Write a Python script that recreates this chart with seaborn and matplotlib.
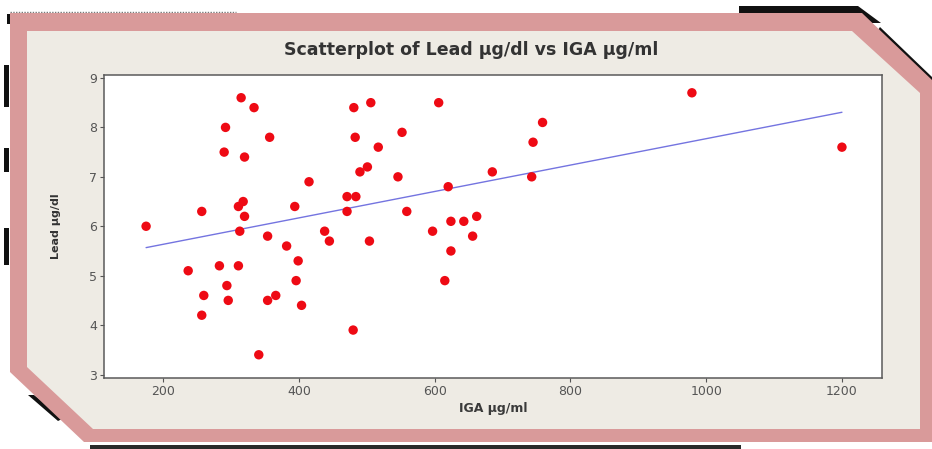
import matplotlib
matplotlib.use("Agg")
import matplotlib.pyplot as plt
import seaborn as sns
import pandas as pd
from matplotlib.patches import Polygon
from matplotlib.lines import Line2D

# ---- data ----
iga = [175, 237, 257, 260, 257, 283, 292, 290, 294, 296,
       315, 334, 320, 311, 318, 320, 313, 311, 341, 357,
       354, 354, 366, 382, 394, 399, 396, 404, 415, 438,
       445, 471, 484, 471, 481, 483, 480, 506, 490, 501,
       517, 504, 546, 552, 559, 606, 597, 620, 624, 643,
       624, 615, 662, 656, 685, 745, 743, 759, 979, 1200]
lead = [6.0, 5.1, 6.3, 4.6, 4.2, 5.2, 8.0, 7.5, 4.8, 4.5,
        8.6, 8.4, 7.4, 6.4, 6.5, 6.2, 5.9, 5.2, 3.4, 7.8,
        5.8, 4.5, 4.6, 5.6, 6.4, 5.3, 4.9, 4.4, 6.9, 5.9,
        5.7, 6.6, 6.6, 6.3, 8.4, 7.8, 3.9, 8.5, 7.1, 7.2,
        7.6, 5.7, 7.0, 7.9, 6.3, 8.5, 5.9, 6.8, 6.1, 6.1,
        5.5, 4.9, 6.2, 5.8, 7.1, 7.7, 7.0, 8.1, 8.7, 7.6]
x_ticks = [200, 400, 600, 800, 1000, 1200]
y_ticks = [3, 4, 5, 6, 7, 8, 9]
title = "Scatterplot of Lead µg/dl vs IGA µg/ml"
x_label = "IGA µg/ml"
y_label = "Lead µg/dl"

df = pd.DataFrame({"IGA": iga, "Lead": lead})

sns.set_theme(style="white")
plt.rcParams['font.family'] = ['DejaVu Sans']

W, H = 932, 449
fig = plt.figure(figsize=(W / 100, H / 100), dpi=100)
fig.patch.set_facecolor("white")


def P(pts):
    return [(x / W, 1 - y / H) for x, y in pts]


def poly(pts, color, z):
    fig.patches.append(Polygon(P(pts), closed=True, transform=fig.transFigure,
                               facecolor=color, edgecolor="none", zorder=z))


# shadows / artifacts
black = "#111111"
poly([(739, 6), (858, 6), (881, 23), (862, 23), (851, 14), (739, 14)], black, 0)
poly([(4, 65), (9, 65), (9, 107), (4, 107)], black, 0)
poly([(4, 148), (9, 148), (9, 172), (4, 172)], black, 0)
poly([(4, 228), (9, 228), (9, 265), (4, 265)], black, 0)
poly([(7, 14), (11, 14), (11, 24), (7, 24)], black, 0)
poly([(28, 395), (34, 395), (64, 418), (58, 421)], black, 0)
poly([(90, 445), (741, 445), (741, 449), (90, 449)], "#2a2a2a", 0)
poly([(880, 27), (932, 77), (932, 82), (878, 30)], black, 0)
fig.lines.append(Line2D([10 / W, 236 / W], [1 - 12 / H, 1 - 12 / H],
                        transform=fig.transFigure, color="#777777", lw=1.0,
                        ls=(0, (1, 1)), zorder=0))

# pink frame and beige panel
poly([(10, 13), (862, 13), (932, 80), (932, 442), (84, 442), (10, 372)], "#d99a9a", 1)
poly([(27, 31), (852, 31), (920, 93), (920, 429), (93, 429), (27, 367)], "#eeebe4", 2)

# plot axes
ax = fig.add_axes([104 / W, 1 - 378 / H, (882 - 104) / W, (378 - 75) / H])
ax.set_zorder(3)
ax.set_facecolor("white")

sns.regplot(data=df, x="IGA", y="Lead", ax=ax, ci=None,
            scatter_kws=dict(s=46, color="#ee0a14", edgecolor="none", alpha=1, zorder=3),
            line_kws=dict(color="#7474e0", lw=1.0, zorder=2))

ax.set_xlim(113, 1259)
ax.set_ylim(2.93, 9.06)
ax.set_xticks(x_ticks)
ax.set_yticks(y_ticks)
ax.set_xticklabels([str(v) for v in x_ticks])
ax.set_yticklabels([str(v) for v in y_ticks])
ax.tick_params(axis="both", direction="out", length=3, width=0.8, color="#555555",
               labelsize=9, labelcolor="#555555", pad=2, bottom=True, left=True)
for s in ax.spines.values():
    s.set_color("#5a5a5a")
    s.set_linewidth(1.1)
    s.set_visible(True)

ax.set_xlabel(x_label, fontsize=9, fontweight="bold", color="#3a3a3a", labelpad=3)
ax.set_ylabel(y_label, fontsize=8, fontweight="bold", color="#333333", labelpad=20)
fig.text(471 / W, 1 - 50 / H, title, ha="center", va="center", fontsize=12.5,
         fontweight="bold", color="#333333", zorder=4)

fig.savefig("out.png", dpi=100, facecolor="white")
